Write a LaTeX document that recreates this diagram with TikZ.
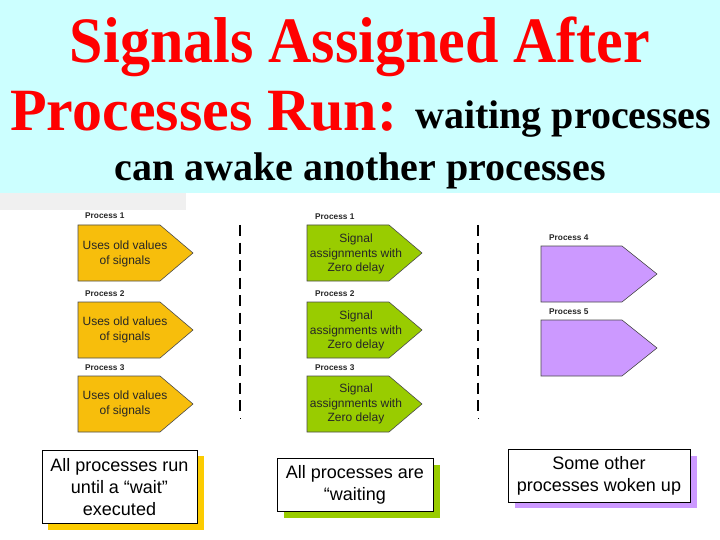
\documentclass[tikz,border=0pt]{standalone}
\usepackage{fontspec}
\setmainfont{Liberation Serif}
\newfontfamily\arialf{Liberation Sans}
\definecolor{bgcyan}{RGB}{204,255,255}
\definecolor{pyellow}{RGB}{247,190,12}
\definecolor{syellow}{RGB}{252,204,0}
\definecolor{pgreen}{RGB}{153,204,0}
\definecolor{ppurple}{RGB}{204,153,255}
\definecolor{striprey}{RGB}{240,240,240}
\tikzset{
  bigtitle/.style={font=\fontsize{60}{60}\selectfont\bfseries, inner sep=0pt, anchor=base},
  smalltitle/.style={font=\fontsize{40}{40}\selectfont\bfseries, inner sep=0pt, anchor=base},
  plabel/.style={font=\arialf\fontsize{8.3}{9}\selectfont\bfseries, text=black!85, inner sep=0pt, anchor=west},
  ptext/.style={font=\arialf\fontsize{12}{14.5}\selectfont, text=black!85, align=center, inner sep=0pt},
  pentshape/.style={draw=black!70, line width=0.6pt},
  note/.style={font=\arialf\fontsize{18}{22}\selectfont, align=center, inner sep=0pt},
  notebox/.style={draw=black, line width=0.8pt, fill=white},
  divider/.style={line width=2.6pt, dash pattern=on 11pt off 6.5pt}
}
\begin{document}
\begin{tikzpicture}[x=1pt,y=-1pt]
\useasboundingbox (0,0) rectangle (720,540);
\fill[white] (0,0) rectangle (720,540);
\fill[bgcyan] (0,0) rectangle (720,193);
\fill[striprey] (0,193) rectangle (186,210);
% title
\node[bigtitle, text=red] (t1) at (360,63) {\scalebox{1}[1.08]{Signals Assigned After}};
\node[bigtitle, text=red, anchor=base west] (t2) at (10,131) {Processes Run:};
\node[smalltitle, anchor=base west] (t2b) at (415,129) {waiting processes};
\node[smalltitle] (t3) at (360,181) {can awake another processes};
% pentagons
\foreach \x/\c in {78/pyellow,307/pgreen}
  \foreach \yc in {253,330,404}
    \draw[pentshape, fill=\c] (\x,\yc-28) -- (\x+82,\yc-28) -- (\x+115,\yc) -- (\x+82,\yc+28) -- (\x,\yc+28) -- cycle;
\foreach \yc in {274,348}
  \draw[pentshape, fill=ppurple] (541,\yc-28) -- (622,\yc-28) -- (657,\yc) -- (622,\yc+28) -- (541,\yc+28) -- cycle;
% process labels
\node[plabel] (a1) at (85,216) {Process 1};
\node[plabel] (a2) at (85,294) {Process 2};
\node[plabel] (a3) at (85,368) {Process 3};
\node[plabel] (b1) at (315,217) {Process 1};
\node[plabel] (b2) at (315,294) {Process 2};
\node[plabel] (b3) at (315,368) {Process 3};
\node[plabel] (c4) at (549,238) {Process 4};
\node[plabel] (c5) at (549,312) {Process 5};
% pentagon texts
\node[ptext] (ta1) at (125,254) {Uses old values\\of signals};
\node[ptext] (ta2) at (125,330) {Uses old values\\of signals};
\node[ptext] (ta3) at (125,404) {Uses old values\\of signals};
\node[ptext] (tb1) at (356,254) {Signal\\assignments with\\Zero delay};
\node[ptext] (tb2) at (356,331) {Signal\\assignments with\\Zero delay};
\node[ptext] (tb3) at (356,404) {Signal\\assignments with\\Zero delay};
% dividers
\draw[divider] (240,225) -- (240,414);
\draw[divider] (478,225) -- (478,414);
\draw[line width=1pt] (240,418) -- (240,419);
\draw[line width=1pt] (478,418) -- (478,419);
% bottom notes
\fill[syellow] (48,456) rectangle (204,530);
\draw[notebox] (42,450) rectangle (197,523);
\node[note] (n1) at (119.5,487) {All processes run\\until a “wait”\\executed};
\fill[pgreen] (284,465) rectangle (440,518);
\draw[notebox] (277,458) rectangle (433,511);
\node[note] (n2) at (355,485) {All processes are\\“waiting};
\fill[ppurple] (515,456) rectangle (697,508);
\draw[notebox] (508,449) rectangle (690,502);
\node[note] (n3) at (599,476) {Some other\\processes woken up};
\end{tikzpicture}
\end{document}
